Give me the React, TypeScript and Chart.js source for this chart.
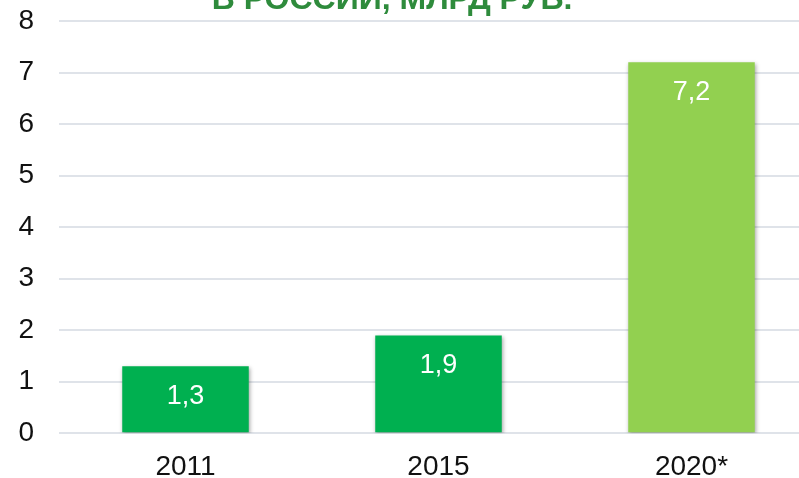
import React, { useEffect, useRef } from "react";
import { Chart, registerables } from "chart.js";

Chart.register(...registerables);

const categories = ["2011", "2015", "2020*"];
const values = [1.3, 1.9, 7.2];
const barColors = ["#00B050", "#00B050", "#92D050"];
const yTicks = [0, 1, 2, 3, 4, 5, 6, 7, 8];
const titleText = "В РОССИИ, МЛРД РУБ.";

const FONT = "'Liberation Sans', Arial, sans-serif";

const titlePlugin = {
  id: "clippedTitle",
  afterDraw(chart: any) {
    const ctx = chart.ctx;
    ctx.save();
    ctx.font = `bold 32px ${FONT}`;
    ctx.fillStyle = "#2E8B3C";
    ctx.textAlign = "center";
    ctx.textBaseline = "alphabetic";
    ctx.fillText(titleText, 392, 9);
    ctx.restore();
  },
};

const shadowPlugin = {
  id: "barShadow",
  beforeDatasetDraw(chart: any) {
    const ctx = chart.ctx;
    ctx.save();
    ctx.shadowColor = "rgba(0,0,0,0.35)";
    ctx.shadowBlur = 4;
    ctx.shadowOffsetX = 1;
    ctx.shadowOffsetY = 2;
  },
  afterDatasetDraw(chart: any) {
    chart.ctx.restore();
  },
};

const labelPlugin = {
  id: "barLabels",
  afterDatasetsDraw(chart: any) {
    const ctx = chart.ctx;
    const meta = chart.getDatasetMeta(0);
    ctx.save();
    ctx.font = `27px ${FONT}`;
    ctx.fillStyle = "#FFFFFF";
    ctx.textAlign = "center";
    ctx.textBaseline = "middle";
    meta.data.forEach((bar: any, i: number) => {
      const txt = String(values[i]).replace(".", ",");
      ctx.fillText(txt, bar.x, bar.y + 30);
    });
    ctx.restore();
  },
};

export default function App() {
  const ref = useRef<HTMLCanvasElement | null>(null);
  useEffect(() => {
    if (!ref.current) return;
    const chart = new Chart(ref.current, {
      type: "bar",
      data: {
        labels: categories,
        datasets: [
          {
            data: values,
            backgroundColor: barColors,
            borderWidth: 0,
            categoryPercentage: 1,
            barPercentage: 0.5,
          },
        ],
      },
      options: {
        responsive: false,
        animation: false,
        devicePixelRatio: 1,
        layout: { padding: { top: 21, right: 12, left: 0, bottom: 0 } },
        plugins: {
          legend: { display: false },
          title: { display: false },
          tooltip: { enabled: false },
        },
        scales: {
          x: {
            grid: { display: false, drawTicks: false },
            border: { display: false },
            ticks: {
              color: "#111111",
              font: { family: FONT, size: 28 },
              padding: 17,
              maxRotation: 0,
            },
            afterFit: (s: any) => {
              s.height = 44.7;
            },
          },
          y: {
            min: 0,
            max: 8,
            afterBuildTicks: (s: any) => {
              s.ticks = yTicks.map((v) => ({ value: v }));
            },
            grid: { color: "#DFE3E9", lineWidth: 2, drawTicks: false },
            border: { display: false },
            ticks: {
              color: "#111111",
              font: { family: FONT, size: 28 },
              padding: 25,
            },
            afterFit: (s: any) => {
              s.width = 59;
              s.paddingTop = 0;
              s.paddingBottom = 0;
            },
          },
        },
      },
      plugins: [shadowPlugin, labelPlugin, titlePlugin],
    });
    return () => chart.destroy();
  }, []);
  return (
    <div
      style={{
        position: "fixed",
        left: 0,
        top: 0,
        width: 799,
        height: 478,
        overflow: "hidden",
        background: "#FFFFFF",
      }}
    >
      <canvas ref={ref} width={830} height={478} style={{ display: "block" }} />
    </div>
  );
}
